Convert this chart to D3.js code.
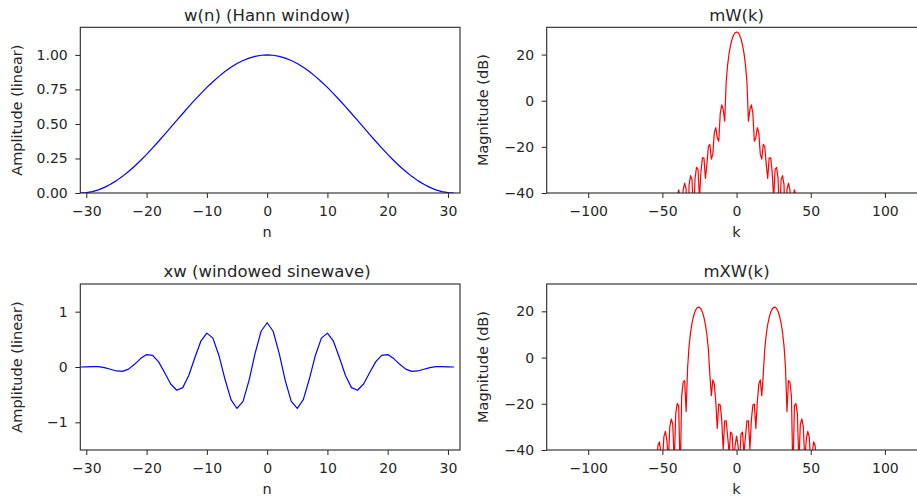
<!DOCTYPE html>
<html><head><meta charset="utf-8">
<script src="https://cdn.jsdelivr.net/npm/d3@7"></script>
<style>
html,body{margin:0;padding:0;background:#fff;overflow:hidden;}
svg{display:block;font-family:"DejaVu Sans",sans-serif;}
</style></head><body>
<svg id="chart" width="917" height="497"></svg>
<script>
// ---------- data ----------
const nTicks = [-30, -20, -10, 0, 10, 20, 30];
const wTicks = [0, 0.25, 0.5, 0.75, 1];
const xwTicks = [-1, 0, 1];
const kTicks = [-100, -50, 0, 50, 100];
const dbTicks = [-40, -20, 0, 20];

// w(n), n = -31 .. 31
const hannWindow = [
 0, 0.0026, 0.0102, 0.0229, 0.0405, 0.0628, 0.0896, 0.1206, 0.1555, 0.1939,
 0.2355, 0.2798, 0.3263, 0.3747, 0.4243, 0.4747, 0.5253, 0.5757, 0.6253, 0.6737,
 0.7202, 0.7645, 0.8061, 0.8445, 0.8794, 0.9104, 0.9372, 0.9595, 0.9771, 0.9898,
 0.9974, 1.0000, 0.9974, 0.9898, 0.9771, 0.9595, 0.9372, 0.9104, 0.8794, 0.8445,
 0.8061, 0.7645, 0.7202, 0.6737, 0.6253, 0.5757, 0.5253, 0.4747, 0.4243, 0.3747,
 0.3263, 0.2798, 0.2355, 0.1939, 0.1555, 0.1206, 0.0896, 0.0628, 0.0405, 0.0229,
 0.0102, 0.0026, 0
];

// xw(n), n = -31 .. 31
const windowedSine = [
 0, 0.0021, 0.0066, 0.0057, -0.0100, -0.0407, -0.0717, -0.0781, -0.0385, 0.0480,
 0.1524, 0.2238, 0.2112, 0.0926, -0.1049, -0.3072, -0.4203, -0.3726, -0.1546, 0.1665,
 0.4661, 0.6116, 0.5217, 0.2088, -0.2174, -0.5892, -0.7497, -0.6210, -0.2415, 0.2447,
 0.6456, 0.8000, 0.6456, 0.2447, -0.2415, -0.6210, -0.7497, -0.5892, -0.2174, 0.2088,
 0.5217, 0.6116, 0.4661, 0.1665, -0.1546, -0.3726, -0.4203, -0.3072, -0.1049, 0.0926,
 0.2112, 0.2238, 0.1524, 0.0480, -0.0385, -0.0781, -0.0717, -0.0407, -0.0100, 0.0057,
 0.0066, 0.0021, 0
];

// mW(k) in dB, k = -128 .. 127
const mW = [
 -120,
 -99.2, -90.0, -88.9, -104.2, -86.4, -80.5, -80.8, -92.1, -82.3, -77.0,
 -76.8, -84.9, -80.6, -73.5, -73.0, -79.8, -80.0, -71.4, -70.3, -75.8,
 -81.3, -69.9, -68.3, -72.5, -82.3, -68.6, -66.4, -69.6, -88.1, -67.5,
 -64.5, -67.1, -95.9, -66.9, -63.1, -65.0, -80.4, -66.4, -61.6, -62.7,
 -73.9, -66.2, -60.4, -60.8, -69.5, -66.4, -59.1, -58.8, -65.6, -66.8,
 -58.0, -57.0, -62.4, -68.2, -56.9, -55.2, -59.5, -71.0, -55.9, -53.5,
 -56.8, -78.9, -55.0, -51.8, -54.2, -77.1, -54.2, -50.1, -51.7, -65.9,
 -53.5, -48.3, -49.1, -59.5, -52.9, -46.6, -46.6, -54.6, -52.5, -44.8,
 -44.1, -50.3, -52.35, -42.79, -41.42, -46.25, -53.0, -40.8, -38.66, -42.35,
 -55.4, -38.66, -35.71, -38.38, -66.3, -36.34, -32.49, -34.23, -53.4, -33.76,
 -28.91, -29.74, -42.14, -30.82, -24.8, -24.73, -33.64, -27.38, -19.92, -18.89,
 -25.34, -23.16, -13.83, -11.67, -16.02, -17.57, -5.54, -1.8, -3.8, -8.86,
 8.1, 15.63, 20.63, 24.21, 26.76, 28.49, 29.5,
 29.83,
 29.5, 28.49, 26.76, 24.21, 20.63, 15.63, 8.1,
 -8.86, -3.8, -1.8, -5.54, -17.57, -16.02, -11.67, -13.83, -23.16, -25.34,
 -18.89, -19.92, -27.38, -33.64, -24.73, -24.8, -30.82, -42.14, -29.74, -28.91,
 -33.76, -53.4, -34.23, -32.49, -36.34, -66.3, -38.38, -35.71, -38.66, -55.4,
 -42.35, -38.66, -40.8, -53.0, -46.25, -41.42, -42.79, -52.35, -50.3, -44.1,
 -44.8, -52.5, -54.6, -46.6, -46.6, -52.9, -59.5, -49.1, -48.3, -53.5,
 -65.9, -51.7, -50.1, -54.2, -77.1, -54.2, -51.8, -55.0, -78.9, -56.8,
 -53.5, -55.9, -71.0, -59.5, -55.2, -56.9, -68.2, -62.4, -57.0, -58.0,
 -66.8, -65.6, -58.8, -59.1, -66.4, -69.5, -60.8, -60.4, -66.2, -73.9,
 -62.7, -61.6, -66.4, -80.4, -65.0, -63.1, -66.9, -95.9, -67.1, -64.5,
 -67.5, -88.1, -69.6, -66.4, -68.6, -82.3, -72.5, -68.3, -69.9, -81.3,
 -75.8, -70.3, -71.4, -80.0, -79.8, -73.0, -73.5, -80.6, -84.9, -76.8,
 -77.0, -82.3, -92.1, -80.8, -80.5, -86.4, -104.2, -88.9, -90.0, -99.2
];

// mXW(k) in dB, k = -128 .. 127
const mXW = [
 -120,
 -98.2, -93.5, -101.3, -91.8, -84.4, -83.3, -90.7, -87.2, -79.2, -78.2,
 -84.2, -85.4, -75.9, -74.5, -79.4, -85.3, -73.5, -71.6, -75.5, -87.5,
 -71.8, -69.2, -72.2, -96.2, -70.4, -67.1, -69.3, -90.6, -69.4, -65.1,
 -66.5, -80.1, -68.4, -63.2, -63.9, -74.0, -67.9, -61.5, -61.5, -69.3,
 -67.7, -59.8, -59.2, -65.3, -67.9, -58.2, -56.8, -61.7, -68.4, -56.0,
 -53.9, -57.7, -71.7, -54.5, -51.7, -54.5, -87.2, -53.1, -49.4, -51.3,
 -69.7, -51.6, -46.9, -48.0, -60.4, -50.0, -44.3, -44.0, -51.9, -49.1,
 -41.27, -40.45, -46.66, -47.52, -38.05, -36.48, -41.31, -46.02, -34.32, -31.95,
 -35.54, -44.94, -29.86, -26.58, -28.97, -45.84, -24.27, -19.86, -20.93, -51.55,
 -16.67, -10.66, -9.96, -23.36, -4.38, 5.07, 10.88, 14.96, 17.89, 19.93,
 21.22, 21.81, 21.75, 21.02, 19.59, 17.38, 14.25, 9.88, 3.58, -7.38,
 -16.53, -9.65, -11.48, -19.13, -30.63, -20.11, -20.53, -26.99, -39.61, -27.39,
 -27.37, -34.14, -41.56, -32.2, -33.14, -44.92, -38.17,
 -33.99,
 -38.17, -44.92, -33.14, -32.2, -41.56, -34.14, -27.37,
 -27.39, -39.61, -26.99, -20.53, -20.11, -30.63, -19.13, -11.48, -9.65, -16.53,
 -7.38, 3.58, 9.88, 14.25, 17.38, 19.59, 21.02, 21.75, 21.81, 21.22,
 19.93, 17.89, 14.96, 10.88, 5.07, -4.38, -23.36, -9.96, -10.66, -16.67,
 -51.55, -20.93, -19.86, -24.27, -45.84, -28.97, -26.58, -29.86, -44.94, -35.54,
 -31.95, -34.32, -46.02, -41.31, -36.48, -38.05, -47.52, -46.66, -40.45, -41.27,
 -49.1, -51.9, -44.0, -44.3, -50.0, -60.4, -48.0, -46.9, -51.6, -69.7,
 -51.3, -49.4, -53.1, -87.2, -54.5, -51.7, -54.5, -71.7, -57.7, -53.9,
 -56.0, -68.4, -61.7, -56.8, -58.2, -67.9, -65.3, -59.2, -59.8, -67.7,
 -69.3, -61.5, -61.5, -67.9, -74.0, -63.9, -63.2, -68.4, -80.1, -66.5,
 -65.1, -69.4, -90.6, -69.3, -67.1, -70.4, -96.2, -72.2, -69.2, -71.8,
 -87.5, -75.5, -71.6, -73.5, -85.3, -79.4, -74.5, -75.9, -85.4, -84.2,
 -78.2, -79.2, -87.2, -90.7, -83.3, -84.4, -91.8, -101.3, -93.5, -98.2
];

// sample indices
const nIndex = d3.range(-31, 32);
const kIndex = d3.range(-128, 128);

// ---------- drawing ----------
const svg = d3.select("#chart");
svg.append("rect").attr("width", 917).attr("height", 497).attr("fill", "#fff");

const ink = "#262626";
const panels = [
  { id: "p1", box: [80.3, 460, 27.3, 193], xd: [-31, 32], yd: [0, 1.2], xs: nIndex, ys: hannWindow,
    color: "#0000ff", xt: nTicks, yt: wTicks, yf: d3.format(".2f"), title: "w(n) (Hann window)",
    xl: "n", yl: "Amplitude (linear)" },
  { id: "p2", box: [546.7, 926.4, 27.3, 193], xd: [-128, 128], yd: [-40, 31.83], xs: kIndex, ys: mW,
    color: "#ff0000", xt: kTicks, yt: dbTicks, yf: d3.format("d"), title: "mW(k)",
    xl: "k", yl: "Magnitude (dB)" },
  { id: "p3", box: [80.3, 460, 284, 450], xd: [-31, 32], yd: [-1.5, 1.5], xs: nIndex, ys: windowedSine,
    color: "#0000ff", xt: nTicks, yt: xwTicks, yf: d3.format("d"), title: "xw (windowed sinewave)",
    xl: "n", yl: "Amplitude (linear)" },
  { id: "p4", box: [546.7, 926.4, 284, 450], xd: [-128, 128], yd: [-40, 31.83], xs: kIndex, ys: mXW,
    color: "#ff0000", xt: kTicks, yt: dbTicks, yf: d3.format("d"), title: "mXW(k)",
    xl: "k", yl: "Magnitude (dB)" }
];

const defs = svg.append("defs");

panels.forEach(p => {
  const [l, r, t, b] = p.box;
  const x = d3.scaleLinear().domain(p.xd).range([l, r]);
  const y = d3.scaleLinear().domain(p.yd).range([b, t]);

  defs.append("clipPath").attr("id", "clip-" + p.id)
    .append("rect").attr("x", l).attr("y", t).attr("width", r - l).attr("height", b - t);

  const g = svg.append("g");

  // data line
  const line = d3.line().x((d, i) => x(p.xs[i])).y(d => y(d));
  g.append("path")
    .datum(p.ys)
    .attr("clip-path", "url(#clip-" + p.id + ")")
    .attr("fill", "none")
    .attr("stroke", p.color)
    .attr("stroke-width", 1.2)
    .attr("stroke-linejoin", "round")
    .attr("d", line);

  // axes
  const xa = g.append("g").attr("transform", `translate(0,${b})`)
    .call(d3.axisBottom(x).tickValues(p.xt).tickSize(5).tickPadding(7.6).tickFormat(d3.format("d")));
  const ya = g.append("g").attr("transform", `translate(${l},0)`)
    .call(d3.axisLeft(y).tickValues(p.yt).tickSize(5).tickPadding(7.6).tickFormat(p.yf));
  [xa, ya].forEach(a => {
    a.select(".domain").remove();
    a.selectAll("line").attr("stroke", ink).attr("stroke-width", 1);
    a.selectAll("text").attr("fill", ink).attr("font-size", 14).attr("font-family", "DejaVu Sans");
  });

  // spines
  g.append("rect").attr("x", l).attr("y", t).attr("width", r - l).attr("height", b - t)
    .attr("fill", "none").attr("stroke", ink).attr("stroke-width", 1.1);

  // title
  g.append("text").attr("x", (l + r) / 2 > 917 ? 736 : (l + Math.min(r, r)) / 2)
    .attr("x", x(0)).attr("y", t - 6.6)
    .attr("text-anchor", "middle").attr("font-size", 16.5).attr("fill", ink).text(p.title);

  // x label
  g.append("text").attr("x", x(0)).attr("y", b + 44)
    .attr("text-anchor", "middle").attr("font-size", 14.5).attr("fill", ink).text(p.xl);

  // y label
  const yx = l - 58.8;
  g.append("text").attr("transform", `translate(${yx},${(t + b) / 2}) rotate(-90)`)
    .attr("text-anchor", "middle").attr("font-size", 14.5).attr("fill", ink).text(p.yl);
});
</script>
</body></html>
